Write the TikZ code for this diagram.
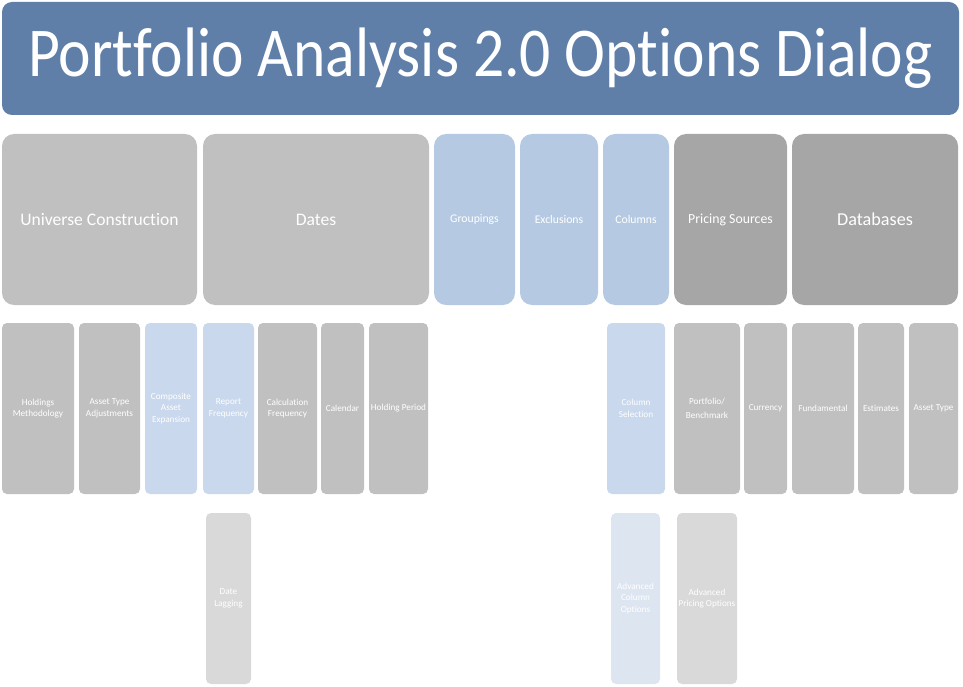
\documentclass[tikz,border=0pt]{standalone}
\usepackage{fontspec}
\setmainfont{Carlito}[Ligatures={NoCommon}]
\definecolor{titleblue}{RGB}{95,127,168}
\definecolor{greyA}{RGB}{192,192,192}
\definecolor{greyB}{RGB}{166,166,166}
\definecolor{greyC}{RGB}{217,217,217}
\definecolor{blueA}{RGB}{181,202,226}
\definecolor{blueB}{RGB}{201,216,236}
\definecolor{blueC}{RGB}{221,229,241}
\tikzset{
  box/.style={anchor=north west, inner sep=0pt, outer sep=0pt, text=white, align=center},
  bigbox/.style={box, rounded corners=12pt},
  smallbox/.style={box, rounded corners=5pt, font=\fontsize{9.2}{11.5}\selectfont},
}
\begin{document}
\begin{tikzpicture}[x=1pt,y=-1pt]
\useasboundingbox (0,0) rectangle (963,687);
% title
\node[bigbox, fill=titleblue, rounded corners=10pt, minimum width=957pt, minimum height=113pt,
  font=\fontsize{70}{84}\selectfont] (title) at (2,2) {\scalebox{0.88}[1]{Portfolio Analysis 2.0 Options Dialog}};
% row 1
\node[bigbox, fill=greyA, minimum width=195pt, minimum height=171pt, font=\fontsize{17.6}{20}\selectfont] (uc) at (2,134) {Universe Construction};
\node[bigbox, fill=greyA, minimum width=226pt, minimum height=171pt, font=\fontsize{17.6}{20}\selectfont] (dates) at (203,134) {Dates};
\node[bigbox, fill=blueA, minimum width=81pt, minimum height=171pt, font=\fontsize{11.7}{14}\selectfont] (grp) at (434,134) {Groupings};
\node[bigbox, fill=blueA, minimum width=78pt, minimum height=171pt, font=\fontsize{11.7}{14}\selectfont] (excl) at (520,134) {Exclusions};
\node[bigbox, fill=blueA, minimum width=66pt, minimum height=171pt, font=\fontsize{11.7}{14}\selectfont] (cols) at (603,134) {Columns};
\node[bigbox, fill=greyB, minimum width=113pt, minimum height=171pt, font=\fontsize{13.8}{16}\selectfont] (ps) at (674,134) {Pricing Sources};
\node[bigbox, fill=greyB, minimum width=166pt, minimum height=171pt, font=\fontsize{18.2}{21}\selectfont] (db) at (792,134) {Databases};
% row 2
\node[smallbox, fill=greyA, minimum width=72pt, minimum height=171pt] (hm) at (2,323) {Holdings\\Methodology};
\node[smallbox, fill=greyA, minimum width=61pt, minimum height=171pt] (ata) at (79,323) {Asset Type\\Adjustments};
\node[smallbox, fill=blueB, minimum width=52pt, minimum height=171pt] (cae) at (145,323) {Composite\\Asset\\Expansion};
\node[smallbox, fill=blueB, minimum width=51pt, minimum height=171pt] (rf) at (203,323) {Report\\Frequency};
\node[smallbox, fill=greyA, minimum width=59pt, minimum height=171pt] (cf) at (258,323) {Calculation\\Frequency};
\node[smallbox, fill=greyA, minimum width=43pt, minimum height=171pt] (cal) at (321,323) {Calendar};
\node[smallbox, fill=greyA, minimum width=59pt, minimum height=171pt] (hp) at (369,323) {Holding Period};
\node[smallbox, fill=blueB, minimum width=58pt, minimum height=171pt] (cs) at (607,323) {Column\\Selection};
\node[smallbox, fill=greyA, minimum width=66pt, minimum height=171pt, font=\fontsize{9.2}{14}\selectfont] (pb) at (674,323) {Portfolio/\\Benchmark};
\node[smallbox, fill=greyA, minimum width=43pt, minimum height=171pt] (cur) at (744,323) {Currency};
\node[smallbox, fill=greyA, minimum width=62pt, minimum height=171pt] (fund) at (792,323) {Fundamental};
\node[smallbox, fill=greyA, minimum width=46pt, minimum height=171pt] (est) at (858,323) {Estimates};
\node[smallbox, fill=greyA, minimum width=49pt, minimum height=171pt] (at) at (909,323) {Asset Type};
% row 3
\node[smallbox, fill=greyC, minimum width=45pt, minimum height=171pt] (dl) at (206,513) {Date\\Lagging};
\node[smallbox, fill=blueC, minimum width=49pt, minimum height=171pt] (aco) at (611,513) {Advanced\\Column\\Options};
\node[smallbox, fill=greyC, minimum width=60pt, minimum height=171pt] (apo) at (677,513) {Advanced\\Pricing Options};
\end{tikzpicture}
\end{document}
